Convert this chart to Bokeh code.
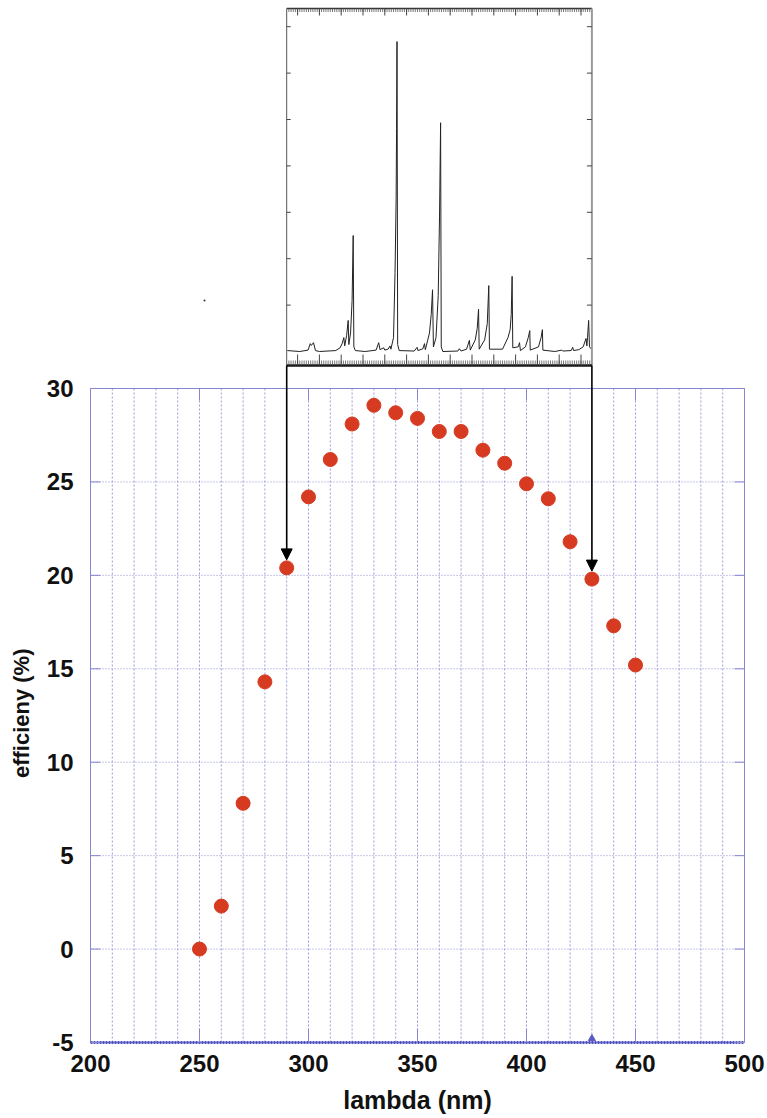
import math
from bokeh.plotting import figure
from bokeh.models import Range1d, FixedTicker, Arrow, NormalHead, Title
from bokeh.embed import file_html
from bokeh.resources import INLINE

# ---------------- data ----------------
wavelength = [250, 260, 270, 280, 290, 300, 310, 320, 330, 340, 350,
              360, 370, 380, 390, 400, 410, 420, 430, 440, 450]
efficiency = [0.0, 2.3, 7.8, 14.3, 20.4, 24.2, 26.2, 28.1, 29.1, 28.7, 28.4,
              27.7, 27.7, 26.7, 26.0, 24.9, 24.1, 21.8, 19.8, 17.3, 15.2]

x_ticks = [200, 250, 300, 350, 400, 450, 500]
y_ticks = [-5, 0, 5, 10, 15, 20, 25, 30]
x_grid = [210, 220, 230, 240, 250, 260, 270, 280, 290, 300, 310, 320, 330, 340,
          350, 360, 370, 380, 390, 400, 410, 420, 430, 440, 450, 460, 470, 480, 490]
y_grid = [0, 5, 10, 15, 20, 25]

# inset spectrum (wavelength nm, intensity arb. units)
spec_nm = [290.3, 296.0, 299.8, 300.8, 301.3, 302.3, 303.2, 305.0, 312.5, 314.5,
           315.5, 316.2, 316.6, 317.5, 318.2, 318.5, 319.3, 320.0, 320.5, 320.8,
           321.5, 326.0, 331.0, 332.2, 332.8, 334.5, 335.0, 336.5, 337.4, 337.8,
           339.0, 339.7, 340.2, 340.4, 340.6, 340.9, 341.6, 348.5, 349.8, 350.2,
           352.5, 353.2, 353.6, 355.5, 356.3, 356.9, 357.3, 358.5, 359.5, 360.1,
           360.6, 360.9, 361.6, 368.5, 369.2, 370.0, 372.5, 373.8, 374.2, 376.5,
           377.4, 378.0, 378.3, 380.8, 382.0, 382.7, 383.0, 389.0, 391.5, 392.5,
           393.0, 393.4, 393.7, 396.2, 396.8, 397.2, 399.5, 400.8, 401.5, 401.7,
           405.5, 406.7, 407.3, 407.5, 413.0, 416.2, 416.6, 420.5, 421.2, 421.6,
           424.0, 426.0, 427.3, 427.7, 428.0, 428.5, 428.9, 429.8]
spec_int = [0.02, 0.0, 0.03, 0.17, 0.13, 0.19, 0.02, 0.0, 0.02, 0.08,
            0.18, 0.30, 0.12, 0.35, 0.67, 0.15, 0.40, 1.10, 2.50, 0.10,
            0.02, 0.0, 0.03, 0.19, 0.04, 0.08, 0.03, 0.05, 0.12, 0.05,
            0.30, 1.70, 3.30, 4.80, 6.68, 0.15, 0.02, 0.01, 0.09, 0.02,
            0.06, 0.17, 0.04, 0.40, 0.80, 1.33, 0.10, 0.30, 1.20, 2.90,
            4.93, 0.10, 0.0, 0.01, 0.06, 0.01, 0.05, 0.24, 0.03, 0.25,
            0.50, 0.91, 0.05, 0.25, 0.60, 1.42, 0.05, 0.05, 0.30, 0.47,
            0.80, 1.62, 0.08, 0.10, 0.19, 0.02, 0.10, 0.30, 0.45, 0.03,
            0.10, 0.30, 0.47, 0.03, 0.0, 0.03, 0.01, 0.02, 0.09, 0.02,
            0.04, 0.10, 0.28, 0.12, 0.30, 0.67, 0.10, 0.05]
spec_major = [295, 305, 315, 325, 335, 345, 355, 365, 375, 385, 395, 405, 415, 425]
spec_minor = list(range(291, 430))
spec_yticks = [1, 2, 3, 4, 5, 6, 7]

# ---------------- layout constants (pixels) ----------------
W, H = 767, 1118
BOX_L, BOX_R, BOX_T, BOX_B = 90, 744, 388, 1042      # main plot box
FR_L, FR_R, FR_T, FR_B = 86, 748, 5, 1046            # bokeh frame
PPU_Y = (BOX_B - BOX_T) / 35.0
PPU_X = (BOX_R - BOX_L) / 300.0

def py(px):
    return 30 + (BOX_T - px) / PPU_Y

x_start = 200 - (BOX_L - FR_L) / PPU_X
x_end = 500 + (FR_R - BOX_R) / PPU_X
y_start = -5 - (FR_B - BOX_B) / PPU_Y
y_end = 30 + (BOX_T - FR_T) / PPU_Y

SPEC_BASE, SPEC_PPU = 351, 46.4
spec_start = -(FR_B - SPEC_BASE) / SPEC_PPU
spec_end = (SPEC_BASE - FR_T) / SPEC_PPU

inset_left, inset_right = 290, 430
inset_top, inset_bottom = py(8), py(365)

p = figure(width=W, height=H, x_range=Range1d(x_start, x_end),
           y_range=Range1d(y_start, y_end),
           output_backend="svg", toolbar_location=None,
           min_border_left=FR_L, min_border_right=W - FR_R,
           min_border_top=FR_T, min_border_bottom=H - FR_B)
p.extra_y_ranges = {"spec": Range1d(spec_start, spec_end)}
p.outline_line_color = None
p.xgrid.visible = False
p.ygrid.visible = False
p.background_fill_color = "white"
p.border_fill_color = "white"

GRID = "#9c9cdc"
FRAME = "#8585d2"
TXT = "#111111"

# axes
xa = p.xaxis[0]
xa.ticker = FixedTicker(ticks=x_ticks)
xa.axis_line_color = None
xa.major_tick_line_color = None
xa.major_tick_in = 0
xa.major_tick_out = 0
xa.minor_tick_line_color = None
xa.major_label_standoff = 8
xa.major_label_text_font = "Liberation Sans"
xa.major_label_text_font_style = "bold"
xa.major_label_text_font_size = "24px"
xa.major_label_text_color = TXT
xa.axis_label = "lambda (nm)"
xa.axis_label_standoff = 11
xa.axis_label_text_font = "Liberation Sans"
xa.axis_label_text_font_style = "bold"
xa.axis_label_text_font_size = "25px"
xa.axis_label_text_color = TXT

ya = p.yaxis[0]
ya.ticker = FixedTicker(ticks=y_ticks)
ya.major_label_overrides = {-5: "-5"}
ya.axis_line_color = None
ya.major_tick_line_color = None
ya.major_tick_in = 0
ya.major_tick_out = 0
ya.minor_tick_line_color = None
ya.major_label_standoff = 13
ya.major_label_text_font = "Liberation Sans"
ya.major_label_text_font_style = "bold"
ya.major_label_text_font_size = "24px"
ya.major_label_text_color = TXT

# y axis title (placed as a side title so it can sit beside the main box)
p.add_layout(Title(text="efficieny (%)", align="right", vertical_align="top",
                   offset=643, standoff=15, text_font="Liberation Sans",
                   text_font_style="bold", text_font_size="22px",
                   text_color=TXT), "left")

# grid lines (dotted)
p.segment(x0=x_grid, y0=[-5] * len(x_grid), x1=x_grid, y1=[30] * len(x_grid),
          line_color=GRID, line_width=1, line_dash="2 2")
p.segment(x0=[200] * len(y_grid), y0=y_grid, x1=[500] * len(y_grid), y1=y_grid,
          line_color="#8e8ed2", line_width=1, line_dash="1 2")

# frame of the main box
p.quad(left=[200], right=[500], bottom=[-5], top=[30], fill_color=None,
       line_color=FRAME, line_width=1)
p.segment(x0=[200], y0=[-5], x1=[500], y1=[-5], line_color="#4f4fc0",
          line_width=3, line_dash="2 1")
# inward ticks on all four sides
in_t = x_ticks[1:-1]
p.segment(x0=in_t, y0=[30] * len(in_t), x1=in_t, y1=[30 - 12 / PPU_Y] * len(in_t),
          line_color=FRAME, line_width=1)
p.segment(x0=in_t, y0=[-5] * len(in_t), x1=in_t, y1=[-5 + 14 / PPU_Y] * len(in_t),
          line_color=FRAME, line_width=1)
p.segment(x0=[500] * len(y_ticks), y0=y_ticks, x1=[500 - 10 / PPU_X] * len(y_ticks),
          y1=y_ticks, line_color=FRAME, line_width=1)
p.segment(x0=[200] * len(y_ticks), y0=y_ticks, x1=[200 + 10 / PPU_X] * len(y_ticks),
          y1=y_ticks, line_color=FRAME, line_width=1)
p.scatter(x=[430], y=[-5 + 4 / PPU_Y], marker="triangle", size=7,
          fill_color="#5a5ac4", line_color="#5a5ac4")

# data points
p.scatter(x=wavelength, y=efficiency, size=14, fill_color="#d63b22",
          line_color="#d63b22")

# ---------------- inset spectrum ----------------
p.line(x=spec_nm, y=spec_int, y_range_name="spec", line_color="#222222", line_width=1)
p.segment(x0=[inset_left], y0=[inset_top], x1=[inset_right], y1=[inset_top],
          line_color="#333333", line_width=1.3)
p.segment(x0=[inset_left], y0=[inset_bottom], x1=[inset_left], y1=[inset_top],
          line_color="#555555", line_width=1)
p.segment(x0=[inset_right], y0=[inset_bottom], x1=[inset_right], y1=[inset_top],
          line_color="#9a9a9a", line_width=2)
p.segment(x0=[inset_left], y0=[inset_bottom], x1=[inset_right], y1=[inset_bottom],
          line_color="#111111", line_width=2.5)
p.segment(x0=spec_minor, y0=[inset_top] * len(spec_minor), x1=spec_minor,
          y1=[inset_top - 3.5 / PPU_Y] * len(spec_minor), line_color="#555555", line_width=0.8)
p.segment(x0=spec_major, y0=[inset_top] * len(spec_major), x1=spec_major,
          y1=[inset_top - 7 / PPU_Y] * len(spec_major), line_color="#444444", line_width=1)
p.segment(x0=spec_minor, y0=[inset_bottom] * len(spec_minor), x1=spec_minor,
          y1=[inset_bottom + 5 / PPU_Y] * len(spec_minor), line_color="#555555", line_width=0.8)
p.segment(x0=spec_major, y0=[inset_bottom] * len(spec_major), x1=spec_major,
          y1=[inset_bottom + 11 / PPU_Y] * len(spec_major), line_color="#444444", line_width=1)
p.segment(x0=[inset_left] * len(spec_yticks), y0=spec_yticks,
          x1=[inset_left + 4 / PPU_X] * len(spec_yticks), y1=spec_yticks,
          y_range_name="spec", line_color="#444444", line_width=1)
p.segment(x0=[inset_right] * len(spec_yticks), y0=spec_yticks,
          x1=[inset_right - 5 / PPU_X] * len(spec_yticks), y1=spec_yticks,
          y_range_name="spec", line_color="#444444", line_width=1)

# arrows from inset edges to data points
for idx in (wavelength.index(290), wavelength.index(430)):
    p.add_layout(Arrow(end=NormalHead(size=11, fill_color="black", line_color="black"),
                       x_start=wavelength[idx], y_start=inset_bottom,
                       x_end=wavelength[idx], y_end=efficiency[idx] + 8 / PPU_Y,
                       line_color="black", line_width=1.6))

# stray dot near the inset (as in the original)
p.scatter(x=[200 + (204 - BOX_L) / PPU_X], y=[py(300)], size=2, fill_color="#333333",
          line_color=None)

open("out.html", "w").write(file_html(p, INLINE))
